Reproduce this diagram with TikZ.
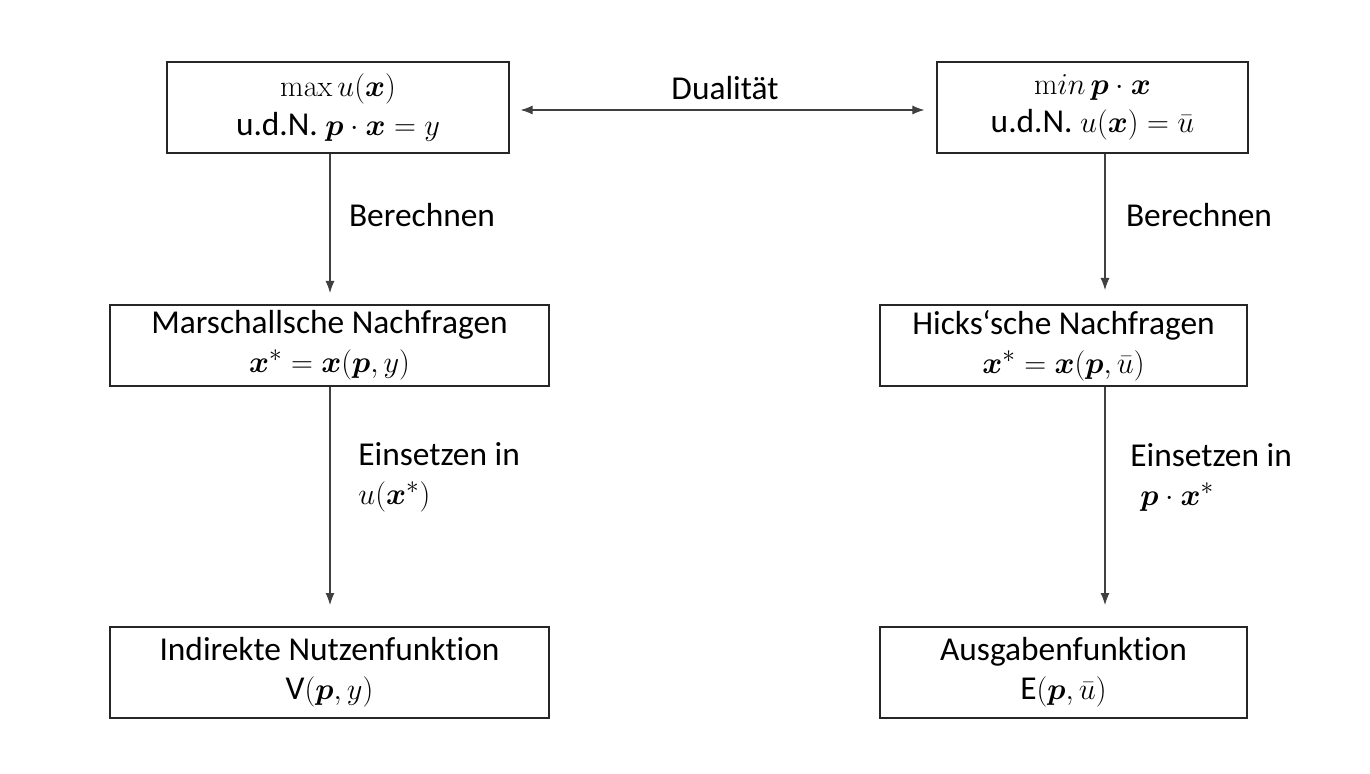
\documentclass[tikz,border=0pt]{standalone}
\usepackage{amsmath}
\usepackage{bm}
\usepackage[no-math]{fontspec}
\setmainfont{Carlito}[Ligatures=NoCommon]
\usetikzlibrary{positioning, arrows.meta}

\begin{document}
\begin{tikzpicture}[
        font=\fontsize{19}{22}\selectfont,
        kasten/.style={draw=black!85, line width=0.7pt, align=center, inner sep=0pt},
        pfeil/.style={draw=black!75, line width=0.6pt, -{Latex[length=2.4mm, width=1.8mm]}},
        beschr/.style={align=left, inner sep=0pt}
    ]
            \useasboundingbox (0,0) rectangle (27.4,-15.48);
            \node[kasten, minimum width=6.84cm, minimum height=1.82cm] (umax) at (6.76,-2.15)
                {$\max u(\bm{x})$\\u.d.N. $\bm{p}\cdot\bm{x}=y$};
            \node[kasten, minimum width=6.22cm, minimum height=1.82cm] (emin) at (21.85,-2.15)
                {$\mathrm{m}in\,\bm{p}\cdot\bm{x}$\\u.d.N. $u(\bm{x})=\bar{u}$};
            \node[kasten, minimum width=8.78cm, minimum height=1.62cm] (marsch) at (6.59,-6.91)
                {Marschallsche Nachfragen\\$\bm{x}^{*}=\bm{x}(\bm{p},y)$};
            \node[kasten, minimum width=7.34cm, minimum height=1.62cm] (hicks) at (21.27,-6.91)
                {Hicks‘sche Nachfragen\\$\bm{x}^{*}=\bm{x}(\bm{p},\bar{u})$};
            \node[kasten, minimum width=8.78cm, minimum height=1.82cm] (indir) at (6.59,-13.45)
                {Indirekte Nutzenfunktion\\V$(\bm{p},y)$};
            \node[kasten, minimum width=7.34cm, minimum height=1.82cm] (ausg) at (21.27,-13.45)
                {Ausgabenfunktion\\E$(\bm{p},\bar{u})$};

            \coordinate (l1) at (6.6,-5.86);
            \coordinate (l2) at (6.6,-12.1);
            \coordinate (r1) at (22.1,-5.8);
            \coordinate (r2) at (22.1,-12.1);

            \draw[pfeil] (umax.south -| l1) -- (l1);
            \draw[pfeil] (marsch.south -| l2) -- (l2);
            \draw[pfeil] (emin.south -| r1) -- (r1);
            \draw[pfeil] (hicks.south -| r2) -- (r2);
            \draw[pfeil, {Latex[length=2.4mm, width=1.8mm]}-{Latex[length=2.4mm, width=1.8mm]}]
                ([xshift=0.22cm, yshift=-0.05cm]umax.east) -- ([xshift=-0.24cm, yshift=-0.05cm]emin.west);

            \node (dual) at (14.5,-1.76) {Dualität};
            \node (ber1) at (8.44,-4.3) {Berechnen};
            \node (ber2) at (23.98,-4.3) {Berechnen};
            \node[beschr, anchor=west] (ein1) at (7.16,-9.55) {Einsetzen in\\$u(\bm{x}^{*})$};
            \node[beschr, anchor=west] (ein2) at (22.6,-9.55) {Einsetzen in\\\hspace*{0.2cm}$\bm{p}\cdot\bm{x}^{*}$};
        \end{tikzpicture}
\end{document}
